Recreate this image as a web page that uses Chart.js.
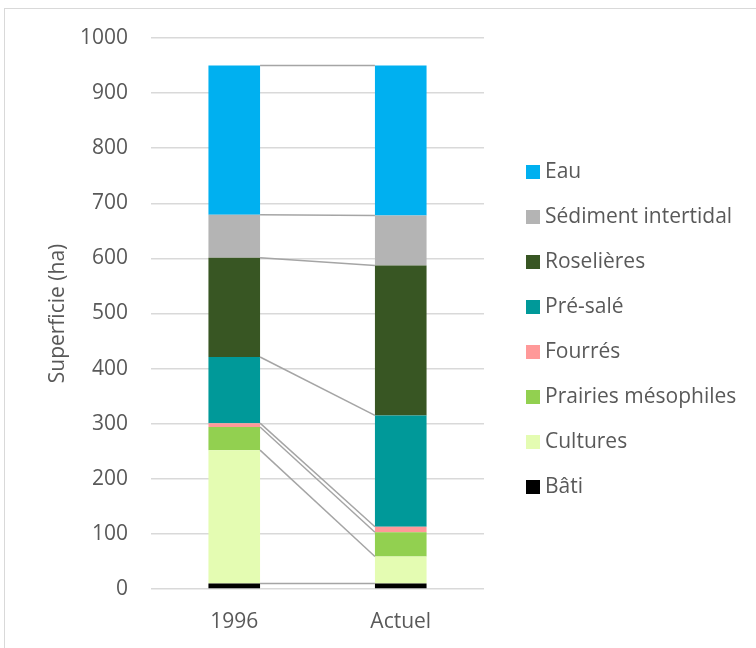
<!DOCTYPE html>
<html>
<head>
<meta charset="utf-8">
<script src="https://cdn.jsdelivr.net/npm/chart.js@4"></script>
<style>
  html, body { margin: 0; padding: 0; width: 756px; height: 648px; overflow: hidden; background: #fff; }
  #frame { position: absolute; left: 4px; top: 8px; width: 800px; height: 700px; border: 1px solid #d9d9d9; box-sizing: border-box; }
  #wrap { position: absolute; left: 0; top: 0; width: 756px; height: 648px; }
  canvas { display: block; }
</style>
</head>
<body>
<div id="frame"></div>
<div id="wrap"><canvas id="c" width="756" height="648"></canvas></div>
<script>
// ---- data ----
const categories = ['1996', 'Actuel'];
const bati       = [10, 10];
const cultures   = [242, 49];
const prairies   = [42, 44];
const fourres    = [7, 10];
const preSale    = [120, 202];
const roselieres = [180, 272];
const sediment   = [78, 91];
const eau        = [271, 272];
const yTicks     = [0, 100, 200, 300, 400, 500, 600, 700, 800, 900, 1000];

const seriesNames  = ['Bâti', 'Cultures', 'Prairies mésophiles', 'Fourrés', 'Pré-salé', 'Roselières', 'Sédiment intertidal', 'Eau'];
const seriesValues = [bati, cultures, prairies, fourres, preSale, roselieres, sediment, eau];
const seriesColors = ['#000000', '#e4fcb2', '#92d050', '#ff9999', '#009999', '#385623', '#b4b4b4', '#00b0f0'];

const FONT = '"Open Sans", "Noto Sans", sans-serif';
const TEXT = '#595959';
const FSIZE = 21;

const connectors = {
  id: 'connectors',
  afterDatasetsDraw(chart) {
    const ctx = chart.ctx;
    ctx.save();
    ctx.strokeStyle = '#a5a5a5';
    ctx.lineWidth = 1.5;
    chart.data.datasets.forEach((ds, i) => {
      const meta = chart.getDatasetMeta(i);
      const a = meta.data[0], b = meta.data[1];
      if (!a || !b) return;
      ctx.beginPath();
      ctx.moveTo(a.x + a.width / 2, a.y);
      ctx.lineTo(b.x - b.width / 2, b.y);
      ctx.stroke();
    });
    ctx.restore();
  }
};

const sideLegend = {
  id: 'sideLegend',
  afterDraw(chart) {
    const ctx = chart.ctx;
    const area = chart.chartArea;
    const n = chart.data.datasets.length;
    const x0 = area.right + 42;
    const y0 = area.top + 134;
    const step = 45;
    ctx.save();
    ctx.font = FSIZE + 'px ' + FONT;
    ctx.textBaseline = 'middle';
    ctx.textAlign = 'left';
    for (let k = 0; k < n; k++) {
      const ds = chart.data.datasets[n - 1 - k];
      const yc = y0 + k * step;
      ctx.fillStyle = ds.backgroundColor;
      ctx.fillRect(x0, yc - 7, 14, 14);
      ctx.fillStyle = TEXT;
      ctx.fillText(ds.label, x0 + 19, yc);
    }
    ctx.restore();
  }
};

new Chart(document.getElementById('c'), {
  type: 'bar',
  data: {
    labels: categories,
    datasets: seriesNames.map((name, i) => ({
      label: name,
      data: seriesValues[i],
      backgroundColor: seriesColors[i],
      borderWidth: 0,
      barPercentage: 0.31,
      categoryPercentage: 1.0
    }))
  },
  options: {
    responsive: false,
    animation: false,
    events: [],
    layout: { padding: { left: 0, right: 272, top: 38, bottom: 16 } },
    plugins: {
      legend: { display: false },
      tooltip: { enabled: false }
    },
    scales: {
      x: {
        stacked: true,
        afterFit(scale) { scale.height = 43; scale.paddingTop = 0; scale.paddingBottom = 0; },
        grid: { display: false, drawTicks: false },
        border: { display: false },
        ticks: { color: TEXT, font: { family: FONT, size: FSIZE }, padding: 20 }
      },
      y: {
        stacked: true,
        min: 0,
        max: 1000,
        afterBuildTicks(scale) { scale.ticks = yTicks.map(v => ({ value: v })); },
        afterFit(scale) { scale.width = 151; scale.paddingTop = 0; scale.paddingBottom = 0; },
        grid: { color: '#d9d9d9', lineWidth: 1.5, drawTicks: false },
        border: { display: false },
        ticks: { color: TEXT, font: { family: FONT, size: FSIZE }, padding: 23, callback: v => String(v) },
        title: {
          display: true,
          text: 'Superficie (ha)',
          color: TEXT,
          font: { family: FONT, size: FSIZE },
          padding: { top: 45, bottom: 0 }
        }
      }
    }
  },
  plugins: [connectors, sideLegend]
});
</script>
</body>
</html>
